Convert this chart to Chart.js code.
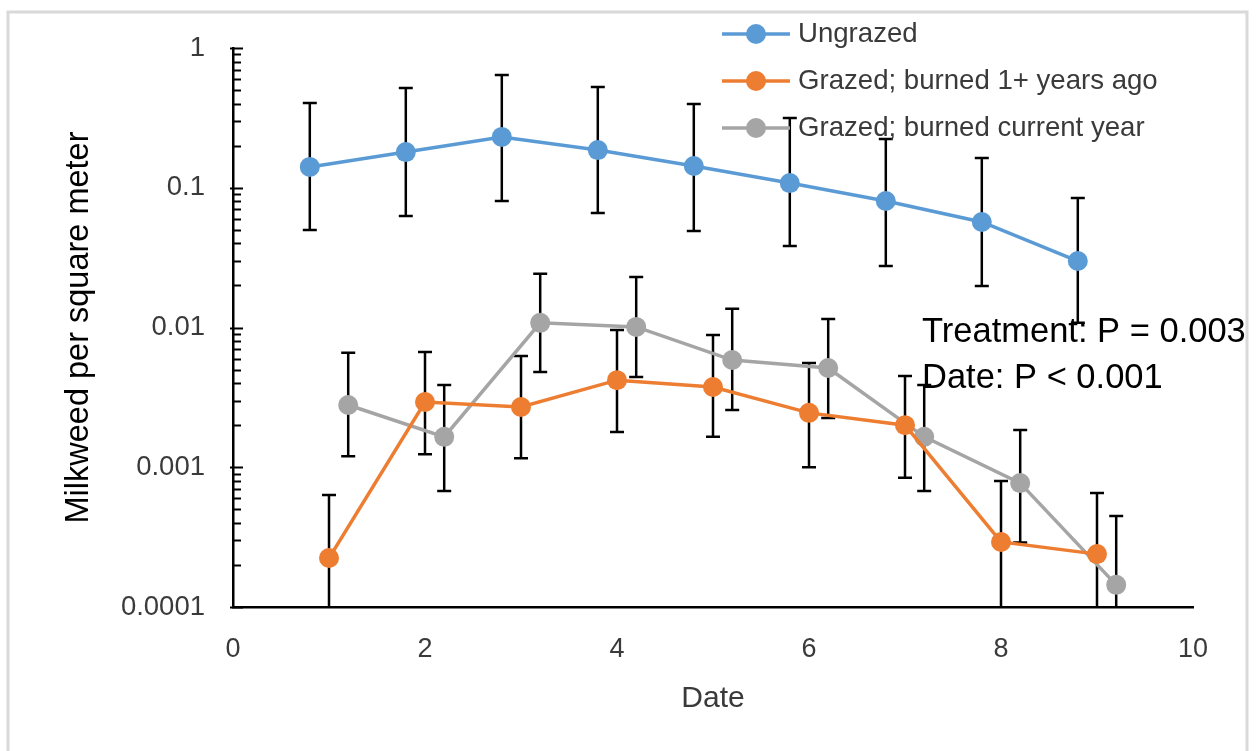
<!DOCTYPE html>
<html>
<head>
<meta charset="utf-8">
<script src="https://cdn.jsdelivr.net/npm/chart.js@4.4.0/dist/chart.umd.min.js"></script>
<style>
    html, body { margin: 0; padding: 0; background: #fff; }
    #wrap { width: 1256px; height: 751px; }
</style>
</head>
<body>
<div id="wrap"><canvas id="milkweedChart" width="1256" height="751"></canvas></div>
<script>
// Dados (x = data, y = milkweed por m²)
const ungrazedX = [0.8, 1.8, 2.8, 3.8, 4.8, 5.8, 6.8, 7.8, 8.8];
const ungrazedY = [0.141, 0.180, 0.231, 0.186, 0.143, 0.108, 0.0804, 0.0569, 0.0299];
const ungrazedHi = [0.404, 0.517, 0.641, 0.526, 0.397, 0.315, 0.223, 0.163, 0.0845];
const ungrazedLo = [0.0499, 0.0628, 0.0804, 0.0659, 0.049, 0.0383, 0.0275, 0.0198, 0.0108];

const burnedOldX = [1, 2, 3, 4, 5, 6, 7, 8, 9];
const burnedOldY = [0.000224, 0.00293, 0.0027, 0.0042, 0.00375, 0.00245, 0.002, 0.000292, 0.000239];
const burnedOldHi = [0.000633, 0.00668, 0.00625, 0.0096, 0.00883, 0.00557, 0.0045, 0.000798, 0.000654];
const burnedOldLo = [0.00005, 0.00124, 0.00116, 0.00179, 0.00165, 0.001, 0.00084, 0.00005, 0.00005];

const burnedNowX = [1.2, 2.2, 3.2, 4.2, 5.2, 6.2, 7.2, 8.2, 9.2];
const burnedNowY = [0.00279, 0.00165, 0.0108, 0.0101, 0.00585, 0.00513, 0.00165, 0.00077, 0.000144];
const burnedNowHi = [0.0066, 0.00388, 0.0242, 0.023, 0.0136, 0.0115, 0.00388, 0.00185, 0.000448];
const burnedNowLo = [0.0012, 0.000676, 0.0048, 0.00442, 0.00257, 0.00225, 0.000676, 0.00029, 0.00005];

const seriesLabels = ['Ungrazed', 'Grazed; burned 1+ years ago', 'Grazed; burned current year'];
const seriesColors = ['#5B9BD5', '#ED7D31', '#A5A5A5'];

const yTickValues = [0.0001, 0.001, 0.01, 0.1, 1];
const yTickLabels = ['0.0001', '0.001', '0.01', '0.1', '1'];
const statsLines = ['Treatment: P = 0.003', 'Date: P < 0.001'];

const fontFamily = "'Liberation Sans', Arial, sans-serif";
const textColor = '#3a3a3a';

function toPoints(xs, ys) {
    return xs.map((x, i) => ({ x: x, y: ys[i] }));
}

const errorBars = [
    { hi: ungrazedHi, lo: ungrazedLo },
    { hi: burnedOldHi, lo: burnedOldLo },
    { hi: burnedNowHi, lo: burnedNowLo },
];

// moldura cinza em volta do gráfico
const framePlugin = {
    id: 'frame',
    beforeDraw(chart) {
        const ctx = chart.ctx;
        ctx.save();
        ctx.fillStyle = '#fff';
        ctx.fillRect(0, 0, chart.width, chart.height);
        ctx.strokeStyle = '#d9d9d9';
        ctx.lineWidth = 3;
        ctx.strokeRect(8, 12, 1239, 800);
        ctx.restore();
    }
};

// barras de erro (desenhadas antes das linhas)
const errorBarPlugin = {
    id: 'errorBars',
    beforeDatasetsDraw(chart) {
        const ctx = chart.ctx;
        const xs = chart.scales.x, ys = chart.scales.y;
        const area = chart.chartArea;
        ctx.save();
        ctx.beginPath();
        ctx.rect(area.left, area.top - 2, area.right - area.left, area.bottom - area.top + 2);
        ctx.clip();
        ctx.strokeStyle = '#000';
        ctx.lineWidth = 2.5;
        chart.data.datasets.forEach((ds, di) => {
            const eb = errorBars[di];
            ds.data.forEach((p, i) => {
                const px = xs.getPixelForValue(p.x);
                const top = ys.getPixelForValue(eb.hi[i]);
                const bot = ys.getPixelForValue(eb.lo[i]);
                ctx.beginPath();
                ctx.moveTo(px, top);
                ctx.lineTo(px, bot);
                ctx.moveTo(px - 7, top);
                ctx.lineTo(px + 7, top);
                ctx.moveTo(px - 7, bot);
                ctx.lineTo(px + 7, bot);
                ctx.stroke();
            });
        });
        ctx.restore();
    }
};

// marcas do eixo log (para dentro, como no Excel)
const logTicksPlugin = {
    id: 'logTicks',
    afterDraw(chart) {
        const ctx = chart.ctx;
        const ys = chart.scales.y;
        const ax = chart.chartArea.left;
        ctx.save();
        ctx.strokeStyle = '#000';
        ctx.lineWidth = 2;
        for (let d = -4; d <= 0; d++) {
            const py = Math.round(ys.getPixelForValue(Math.pow(10, d))) + 0.5;
            ctx.beginPath();
            ctx.moveTo(ax - 3, py);
            ctx.lineTo(ax + 10, py);
            ctx.stroke();
            if (d === 0) continue;
            for (let k = 2; k <= 9; k++) {
                const my = Math.round(ys.getPixelForValue(k * Math.pow(10, d))) + 0.5;
                ctx.beginPath();
                ctx.moveTo(ax, my);
                ctx.lineTo(ax + 8, my);
                ctx.stroke();
            }
        }
        ctx.restore();
    }
};

// legenda e texto das estatísticas
const legendPlugin = {
    id: 'customLegend',
    afterDraw(chart) {
        const ctx = chart.ctx;
        const rows = [34, 81, 128];
        ctx.save();
        chart.data.datasets.forEach((ds, i) => {
            const y = rows[i];
            ctx.strokeStyle = ds.borderColor;
            ctx.lineWidth = 3.5;
            ctx.beginPath();
            ctx.moveTo(722, y);
            ctx.lineTo(790, y);
            ctx.stroke();
            ctx.fillStyle = ds.borderColor;
            ctx.beginPath();
            ctx.arc(756, y, 10, 0, Math.PI * 2);
            ctx.fill();
            ctx.fillStyle = textColor;
            ctx.font = '27.6px ' + fontFamily;
            ctx.textBaseline = 'middle';
            ctx.textAlign = 'left';
            ctx.fillText(ds.label, 798, y);
        });
        ctx.fillStyle = '#000';
        ctx.font = '34.5px ' + fontFamily;
        ctx.textBaseline = 'middle';
        ctx.fillText(statsLines[0], 922, 332);
        ctx.fillText(statsLines[1], 922, 378);
        ctx.restore();
    }
};

const ctx = document.getElementById('milkweedChart').getContext('2d');
new Chart(ctx, {
    type: 'line',
    data: {
        datasets: [
            { label: seriesLabels[0], data: toPoints(ungrazedX, ungrazedY) },
            { label: seriesLabels[1], data: toPoints(burnedOldX, burnedOldY) },
            { label: seriesLabels[2], data: toPoints(burnedNowX, burnedNowY) },
        ].map((ds, i) => Object.assign(ds, {
            borderColor: seriesColors[i],
            backgroundColor: seriesColors[i],
            pointBackgroundColor: seriesColors[i],
            pointBorderWidth: 0,
            pointRadius: 10,
            borderWidth: 3.5,
            tension: 0,
            fill: false,
        }))
    },
    options: {
        responsive: false,
        animation: false,
        layout: { padding: { left: 0, right: 63, top: 48, bottom: 0 } },
        scales: {
            x: {
                type: 'linear',
                min: 0,
                max: 10,
                afterFit: s => { s.height = 144; },
                ticks: {
                    stepSize: 2,
                    padding: 26,
                    color: textColor,
                    font: { family: fontFamily, size: 27 },
                },
                grid: { display: true, drawOnChartArea: false, drawTicks: false },
                border: { color: '#000', width: 2.5 },
                title: {
                    display: true,
                    text: 'Date',
                    color: textColor,
                    font: { family: fontFamily, size: 30 },
                    padding: { top: 0, bottom: 34 },
                },
            },
            y: {
                type: 'logarithmic',
                min: 0.0001,
                max: 1,
                afterBuildTicks: s => { s.ticks = yTickValues.map(v => ({ value: v, major: true })); },
                afterFit: s => { s.width = 233; },
                ticks: {
                    callback: (v, i) => yTickLabels[i],
                    padding: 28,
                    color: textColor,
                    font: { family: fontFamily, size: 27.5 },
                },
                grid: { display: true, drawOnChartArea: false, drawTicks: false },
                border: { color: '#000', width: 2.5 },
                title: {
                    display: true,
                    text: 'Milkweed per square meter',
                    color: '#000',
                    font: { family: fontFamily, size: 32.5 },
                    padding: { top: 60, bottom: 0 },
                },
            },
        },
        plugins: {
            legend: { display: false },
            tooltip: { enabled: false },
        },
    },
    plugins: [framePlugin, errorBarPlugin, logTicksPlugin, legendPlugin],
});
</script>
</body>
</html>
